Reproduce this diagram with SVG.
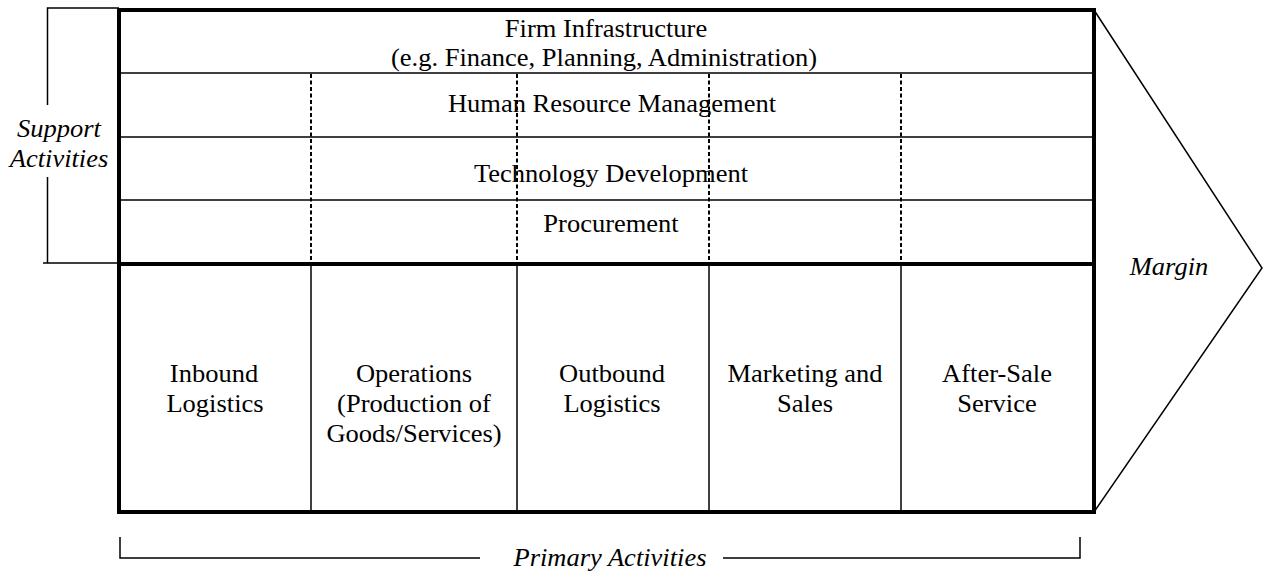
<svg xmlns="http://www.w3.org/2000/svg" width="1267" height="579" viewBox="0 0 1267 579">
<style>
  text { font-family: "Liberation Serif", "Times New Roman", serif; font-size: 25px; fill: #000; text-anchor: middle; }
  .it { font-style: italic; }
  .thin { stroke: #000; stroke-width: 1.5; fill: none; }
  .thick { stroke: #000; stroke-width: 4; fill: none; }
  .dash { stroke: #000; stroke-width: 2; stroke-dasharray: 4 2.5; fill: none; }
</style>
<rect width="1267" height="579" fill="#fff"/>

<g id="margin-arrow">
  <polyline class="thin" points="1094,10 1262,268 1094,512"/>
  <text class="it" transform="translate(1169,275) scale(1.06 1)">Margin</text>
</g>

<g id="support-activities">
  <g id="firm-infrastructure">
    <text transform="translate(606,37) scale(1.06 1)">Firm Infrastructure</text>
    <text transform="translate(604,66) scale(1.06 1)">(e.g. Finance, Planning, Administration)</text>
  </g>
  <g id="human-resource-management">
    <line class="thin" x1="119" y1="73" x2="1094" y2="73"/>
    <text transform="translate(612,112) scale(1.06 1)">Human Resource Management</text>
  </g>
  <g id="technology-development">
    <line class="thin" x1="119" y1="137" x2="1094" y2="137"/>
    <text transform="translate(611,182) scale(1.06 1)">Technology Development</text>
  </g>
  <g id="procurement">
    <line class="thin" x1="119" y1="200" x2="1094" y2="200"/>
    <text transform="translate(611,232) scale(1.06 1)">Procurement</text>
  </g>
  <g id="support-dividers">
    <line class="dash" x1="311" y1="74" x2="311" y2="262"/>
    <line class="dash" x1="517" y1="74" x2="517" y2="262"/>
    <line class="dash" x1="709" y1="74" x2="709" y2="262"/>
    <line class="dash" x1="901" y1="74" x2="901" y2="262"/>
  </g>
</g>

<g id="primary-activities">
  <g id="inbound-logistics">
    <text transform="translate(214,382) scale(1.06 1)">Inbound</text>
    <text transform="translate(215,412) scale(1.06 1)">Logistics</text>
  </g>
  <g id="operations">
    <line class="thin" x1="311" y1="264" x2="311" y2="512"/>
    <text transform="translate(414,382) scale(1.06 1)">Operations</text>
    <text transform="translate(414,412) scale(1.06 1)">(Production of</text>
    <text transform="translate(414,442) scale(1.06 1)">Goods/Services)</text>
  </g>
  <g id="outbound-logistics">
    <line class="thin" x1="517" y1="264" x2="517" y2="512"/>
    <text transform="translate(612,382) scale(1.06 1)">Outbound</text>
    <text transform="translate(612,412) scale(1.06 1)">Logistics</text>
  </g>
  <g id="marketing-and-sales">
    <line class="thin" x1="709" y1="264" x2="709" y2="512"/>
    <text transform="translate(805,382) scale(1.06 1)">Marketing and</text>
    <text transform="translate(805,412) scale(1.06 1)">Sales</text>
  </g>
  <g id="after-sale-service">
    <line class="thin" x1="901" y1="264" x2="901" y2="512"/>
    <text transform="translate(997,382) scale(1.06 1)">After-Sale</text>
    <text transform="translate(997,412) scale(1.06 1)">Service</text>
  </g>
</g>

<g id="frame">
  <rect class="thick" x="119" y="10" width="975" height="502"/>
  <line class="thick" x1="119" y1="264" x2="1094" y2="264"/>
</g>

<g id="connectors">
  <g id="support-bracket">
    <polyline class="thin" points="119,8 47.5,8 47.5,105"/>
    <polyline class="thin" points="47.5,177 47.5,263 43,263 117,263"/>
    <text class="it" transform="translate(59,137) scale(1.06 1)">Support</text>
    <text class="it" transform="translate(59,167) scale(1.06 1)">Activities</text>
  </g>
  <g id="primary-bracket">
    <polyline class="thin" points="120,537 120,558 480,558"/>
    <polyline class="thin" points="723,558 1080,558 1080,537"/>
    <text class="it" transform="translate(610,566) scale(1.06 1)">Primary Activities</text>
  </g>
</g>
</svg>
